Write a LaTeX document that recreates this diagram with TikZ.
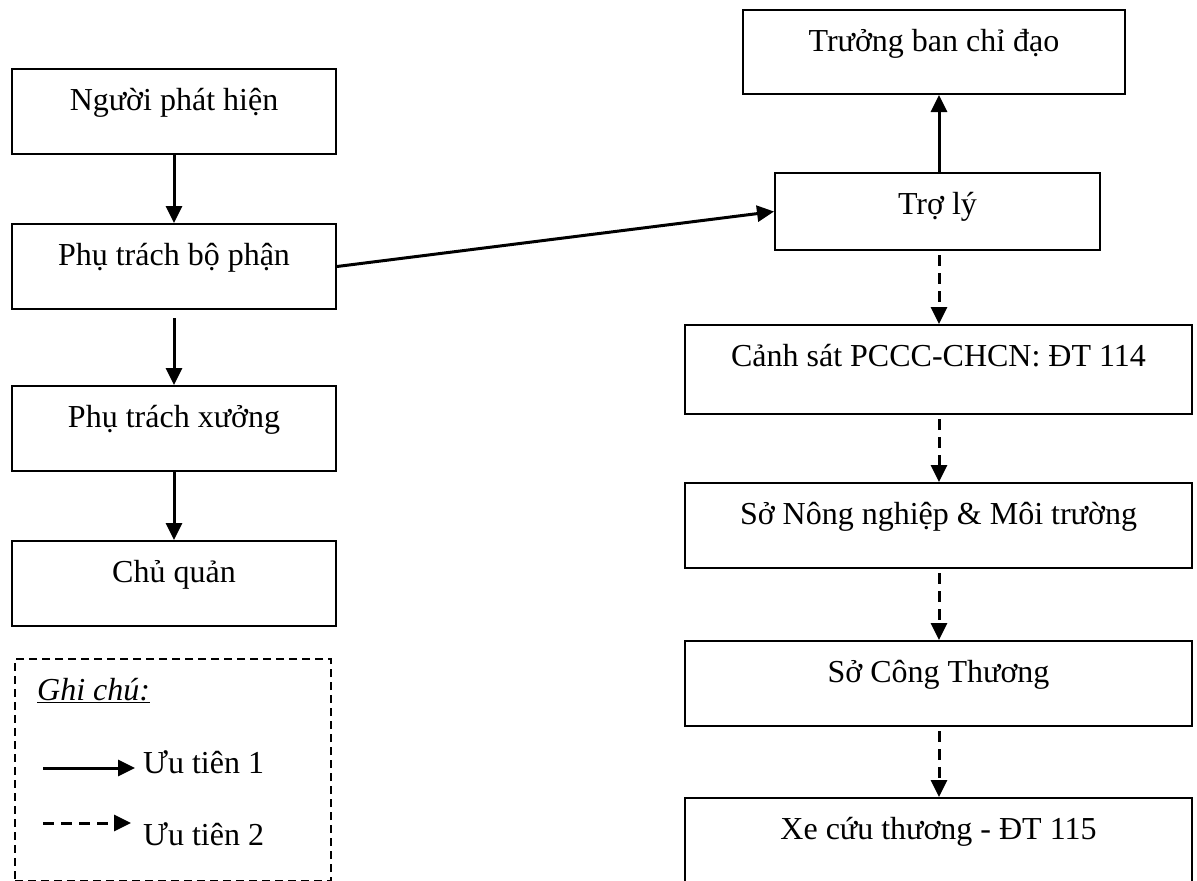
\documentclass[tikz,border=0pt]{standalone}
\usepackage{fontspec}
\setmainfont{Liberation Serif}
\usetikzlibrary{arrows.meta}
\begin{document}
\begin{tikzpicture}[x=1pt,y=-1pt,
  txt/.style={font=\fontsize{32}{38}\selectfont},
  box/.style={txt, draw, line width=2pt, inner sep=0pt, anchor=north west,
    text height=41pt},
  arr/.style={line width=3pt, -{Triangle[length=17pt,width=16pt]}},
  darr/.style={arr, dash pattern=on 11pt off 7pt, dash phase=14pt},
  legendbox/.style={draw, line width=2pt, dash pattern=on 8pt off 5pt,
    inner sep=0pt, anchor=north west},
  legtext/.style={txt, inner sep=0pt, anchor=base west}]
\useasboundingbox (0,0) rectangle (1197,881);
\clip (0,0) rectangle (1197,881);

% left column: reporting chain
\node[box, minimum width=324pt, text depth=44pt] (nguoi)   at (11,68)  {Người phát hiện};
\node[box, minimum width=324pt, text depth=44pt] (bophan)  at (11,223) {Phụ trách bộ phận};
\node[box, minimum width=324pt, text depth=44pt] (xuong)   at (11,385) {Phụ trách xưởng};
\node[box, minimum width=324pt, text depth=44pt] (chuquan) at (11,540) {Chủ quản};

% right column
\node[box, minimum width=382pt, text depth=43pt] (truongban) at (742,9)  {Trưởng ban chỉ đạo};
\node[box, minimum width=325pt, text depth=36pt] (troly)     at (774,172) {Trợ lý};
\node[box, minimum width=507pt, text depth=48pt] (canhsat)   at (684,324) {Cảnh sát PCCC-CHCN: ĐT 114};
\node[box, minimum width=507pt, text depth=44pt] (songn)     at (684,482) {Sở Nông nghiệp \& Môi trường};
\node[box, minimum width=507pt, text depth=44pt] (soct)      at (684,640) {Sở Công Thương};
\node[box, minimum width=507pt, text depth=59pt] (xecuu)     at (684,797) {Xe cứu thương - ĐT 115};

% legend
\node[legendbox, minimum width=316pt, minimum height=222pt] (legend) at (14,658) {};
\node[legtext] (ghichu) at (37,700) {\underline{\textit{Ghi chú:}}};
\coordinate (l1s) at (43,768);
\coordinate (l1e) at (135,768);
\coordinate (l2s) at (43,823);
\coordinate (l2e) at (131,823);
\node[legtext] (ut1) at (143,773) {Ưu tiên 1};
\node[legtext] (ut2) at (143,845) {Ưu tiên 2};
\draw[arr] (l1s) -- (l1e);
\draw[darr, dash phase=0pt] (l2s) -- (l2e);

% connectors
\coordinate (rc) at (939,0);
\draw[arr] (nguoi.south) -- (bophan.north);
\draw[arr, shorten <=8pt] (bophan.south) -- (xuong.north);
\draw[arr] (xuong.south) -- (chuquan.north);
\draw[arr] (bophan.east) -- (troly.west);
\draw[arr] (troly.north -| rc) -- (truongban.south -| rc);
\draw[darr] (troly.south -| rc) -- (canhsat.north -| rc);
\draw[darr] (canhsat.south -| rc) -- (songn.north -| rc);
\draw[darr] (songn.south -| rc) -- (soct.north -| rc);
\draw[darr] (soct.south -| rc) -- (xecuu.north -| rc);
\end{tikzpicture}
\end{document}
